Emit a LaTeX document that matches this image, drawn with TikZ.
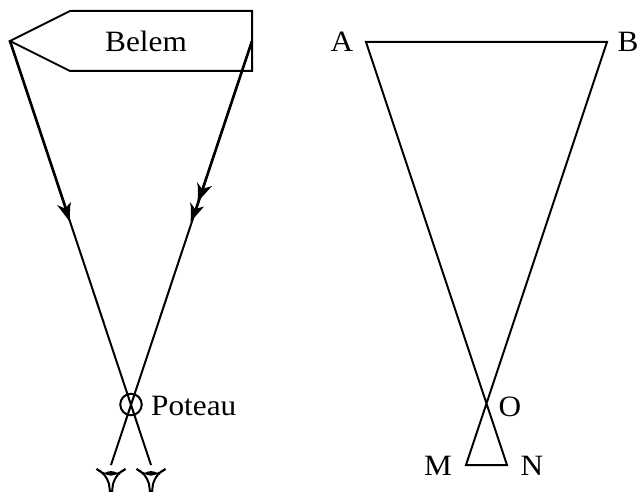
\documentclass[tikz,border=0pt]{standalone}
\usepackage{fontspec}
\setmainfont[FakeStretch=1.06]{Liberation Serif}
\tikzset{
 x=1pt,y=-1pt,
 ln/.style={line width=2pt,line join=miter},
 heavy/.style={line width=2.6pt},
 lbl/.style={font=\fontsize{29.5}{32}\selectfont,inner sep=0pt,anchor=base},
}
\newcommand{\eyeglyph}[1]{%
 \begin{scope}[shift={(#1,0)}]
  \draw[line width=2pt] (-14.5,469) .. controls (-8,472) and (-4,477) .. (-2,484) -- (-1,492);
  \draw[line width=2pt] (14.5,469) .. controls (8,472) and (4,477) .. (2,484) -- (1,492);
  \draw[line width=1.6pt] (-14.5,469) .. controls (-7,476) and (7,476) .. (14.5,469);
  \fill (-6,473) .. controls (-3,470.5) and (3,470.5) .. (6,473) .. controls (3,476.5) and (-3,476.5) .. (-6,473) -- cycle;
 \end{scope}}
\begin{document}
\begin{tikzpicture}
\useasboundingbox (0,0) rectangle (637,492);
\coordinate (p) at (10,41); \coordinate (q) at (70,11); \coordinate (r) at (252,11);
\coordinate (s) at (252,71); \coordinate (t) at (70,71);
\coordinate (e1) at (151,465); \coordinate (e2) at (111,465);
\coordinate (c) at (252,41);
\coordinate (h1) at (67,212); \coordinate (h2) at (195,212);
\coordinate (A) at (366,42); \coordinate (B) at (607,42); \coordinate (M) at (466,465); \coordinate (N) at (507,465);
\draw[ln] (p) -- (q) -- (r) -- (s) -- (t) -- cycle;
\draw[ln] (p) -- (e1);
\draw[ln] (c) -- (e2);
\draw[heavy] (p) -- (h1);
\draw[heavy] (c) -- (h2);
\node[draw,line width=2pt,circle,minimum size=21.5pt,inner sep=0pt] (post) at (131,404.5) {};
\draw[ln] (A) -- (B) -- (M) -- (N) -- cycle;
% arrowheads
\fill (70,222) -- (57,205) -- (65,208.5) -- (71,202) .. controls (69.5,208) and (70,215) .. (70,222) -- cycle;
\fill (190.5,222) .. controls (191,215) and (191.5,208) .. (190,202) -- (195,209) -- (204,206.5) -- cycle;
\fill (197.5,202) .. controls (198,195) and (198.5,188) .. (197,182) -- (202,189) -- (212,186) -- cycle;
\eyeglyph{111}
\eyeglyph{151}
\node[lbl] (belem) at (146,52) {Belem};
\node[lbl,anchor=base west] (pot) at (151,415) {Poteau};
\node[lbl] (la) at (342,52) {A};
\node[lbl] (lb) at (628,52) {B};
\node[lbl] (lo) at (510,416) {O};
\node[lbl] (lm) at (438,475) {M};
\node[lbl] (ln) at (532,475) {N};
\end{tikzpicture}
\end{document}
